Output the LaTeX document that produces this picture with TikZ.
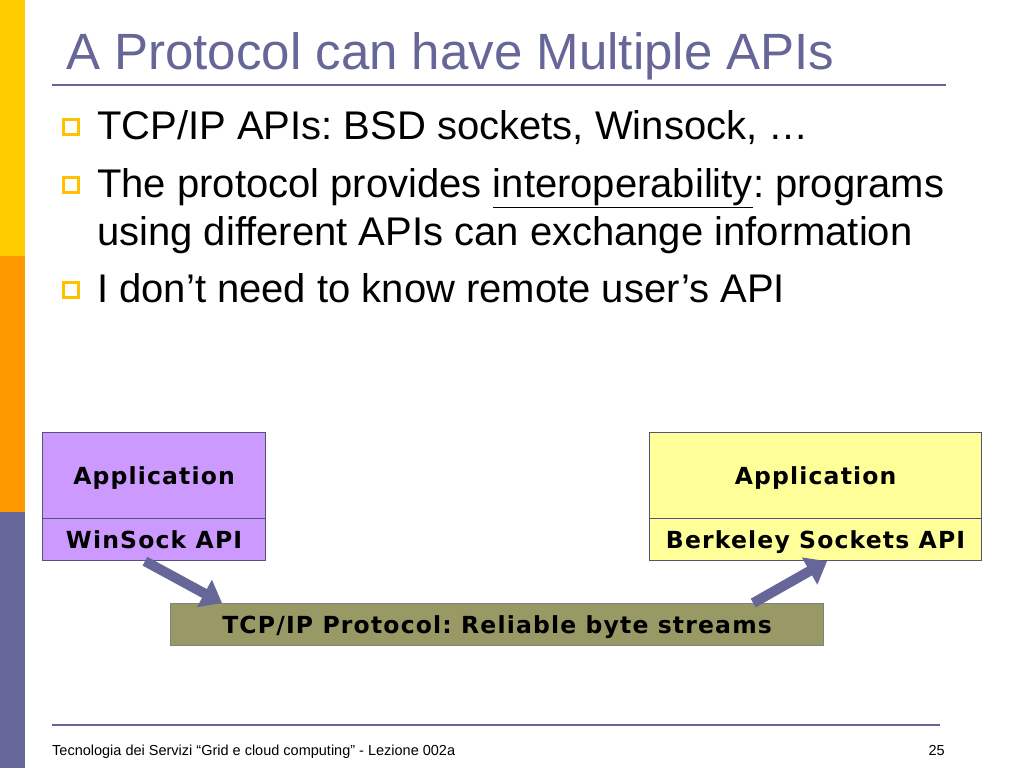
\documentclass[tikz,border=0pt]{standalone}
\usepackage{fontspec}
\setmainfont{Liberation Sans}
\newfontfamily\boxfont[LetterSpace=5]{DejaVu Sans}
\usetikzlibrary{positioning,calc,arrows.meta}
\frenchspacing
\definecolor{slate}{HTML}{666699}
\definecolor{barYellow}{HTML}{FFCC00}
\definecolor{barOrange}{HTML}{FF9900}
\definecolor{lilac}{HTML}{CC99FF}
\definecolor{paleYellow}{HTML}{FFFF99}
\definecolor{olive}{HTML}{999966}
\definecolor{bulletYellow}{HTML}{FFC000}

\tikzset{
  layer/.style={draw=slate!80!black, line width=1.2pt, anchor=north west, inner sep=0pt,
    text height=19pt, text depth=1pt,
    font=\boxfont\bfseries\fontsize{23.5}{26}\selectfont, text=black},
  bullettext/.style={anchor=base west, inner sep=0pt, font=\fontsize{40}{44}\selectfont},
  bulletbox/.style={draw=bulletYellow, line width=3pt, minimum size=15pt, inner sep=0pt},
  fatarrow/.style={draw=slate, line width=10pt, -{Triangle[length=20pt, width=30pt]}}
}

\begin{document}
\begin{tikzpicture}[x=1pt, y=-1pt]
    \useasboundingbox (0,0) rectangle (1024,768);
    \fill[white] (0,0) rectangle (1024,768);

    % side bar
    \fill[barYellow] (0,0) rectangle (25,256);
    \fill[barOrange] (0,256) rectangle (25,512);
    \fill[slate] (0,512) rectangle (25,768);

    % title
    \node[anchor=base west, inner sep=0pt, text=slate, font=\fontsize{51}{60}\selectfont] (title) at (66,70) {A Protocol can have Multiple APIs};
    \draw[slate, line width=2pt] (52,85) -- (946,85);

    % bullets
    \node[bullettext] (b1) at (97,139) {TCP/IP APIs: BSD sockets, Winsock, \dots};
    \node[bullettext] (b2) at (97,197) {The protocol provides \underline{interoperability}: programs};
    \node[bullettext] (b2b) at (97,245) {using different APIs can exchange information};
    \node[bullettext] (b3) at (97,302) {I don’t need to know remote user’s API};
    \foreach \y in {127,185,290}
        \node[bulletbox] at (71,\y) {};

    % left stack
    \node[layer, fill=lilac, minimum width=223pt, minimum height=86pt] (app1) at (42,432) {Application};
    \node[layer, fill=lilac, minimum width=223pt, minimum height=42pt] (win) at (42,518) {WinSock API};

    % right stack
    \node[layer, fill=paleYellow, minimum width=332pt, minimum height=86pt] (app2) at (649,432) {Application};
    \node[layer, fill=paleYellow, minimum width=332pt, minimum height=42pt] (bsd) at (649,518) {Berkeley Sockets API};

    % protocol
    \node[layer, draw=gray, fill=olive, minimum width=653pt, minimum height=42pt] (tcp) at (170,603) {TCP/IP Protocol: Reliable byte streams};

    \draw[fatarrow] ($(win.south west)+(103,0)$) -- ($(tcp.north west)+(52,0)$);
    \draw[fatarrow] ($(tcp.north east)+(-71,0)$) -- ($(bsd.south west)+(178,0)$);

    % footer
    \draw[slate, line width=2pt] (52,725) -- (940,725);
    \node[anchor=base west, inner sep=0pt, font=\fontsize{14.5}{17}\selectfont] (foot) at (52,755) {Tecnologia dei Servizi “Grid e cloud computing” - Lezione 002a};
    \node[anchor=base east, inner sep=0pt, font=\fontsize{14.5}{17}\selectfont] (page) at (945,755) {25};
\end{tikzpicture}
\end{document}
